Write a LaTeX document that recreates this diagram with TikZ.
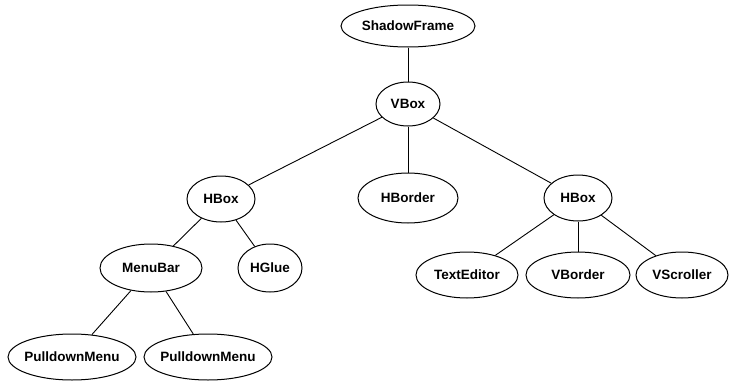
\documentclass[tikz,border=0pt]{standalone}
\usepackage{fontspec}
\setmainfont{Liberation Sans}
\usetikzlibrary{shapes.geometric}
\begin{document}
\begin{tikzpicture}[x=1pt,y=-1pt,
  widget/.style={ellipse,draw,line width=1pt,inner sep=0pt,
    font=\fontsize{13.5}{15}\selectfont\bfseries},
  wide/.style={inner xsep=-8pt},
  link/.style={line width=0.9pt}]
\useasboundingbox (0,0) rectangle (729,391);
% widget tree nodes
\node[widget,minimum width=134,minimum height=42] (sf) at (408,26) {ShadowFrame};
\node[widget,minimum width=64,minimum height=44] (vbox) at (408,104) {VBox};
\node[widget,minimum width=68,minimum height=46] (hbl) at (221,199) {HBox};
\node[widget,minimum width=100,minimum height=50] (hborder) at (408,198) {HBorder};
\node[widget,minimum width=68,minimum height=46] (hbr) at (578,198) {HBox};
\node[widget,minimum width=102,minimum height=48] (menubar) at (151,268) {MenuBar};
\node[widget,minimum width=64,minimum height=48] (hglue) at (270,268) {HGlue};
\node[widget,minimum width=102,minimum height=46] (texted) at (467,275) {TextEditor};
\node[widget,minimum width=104,minimum height=46] (vborder) at (578,275) {VBorder};
\node[widget,minimum width=92,minimum height=46] (vscroll) at (682,275) {VScroller};
\node[widget,wide,minimum width=128,minimum height=46] (pd1) at (72,357) {PulldownMenu};
\node[widget,wide,minimum width=128,minimum height=46] (pd2) at (208,357) {PulldownMenu};
% parent-child links
\draw[link] (sf) -- (vbox);
\draw[link] (vbox) -- (hbl);
\draw[link] (vbox) -- (hborder);
\draw[link] (vbox) -- (hbr);
\draw[link] (hbl) -- (menubar);
\draw[link] (hbl) -- (hglue);
\draw[link] (menubar) -- (pd1);
\draw[link] (menubar) -- (pd2);
\draw[link] (hbr) -- (texted);
\draw[link] (hbr) -- (vborder);
\draw[link] (hbr) -- (vscroll);
\end{tikzpicture}
\end{document}
